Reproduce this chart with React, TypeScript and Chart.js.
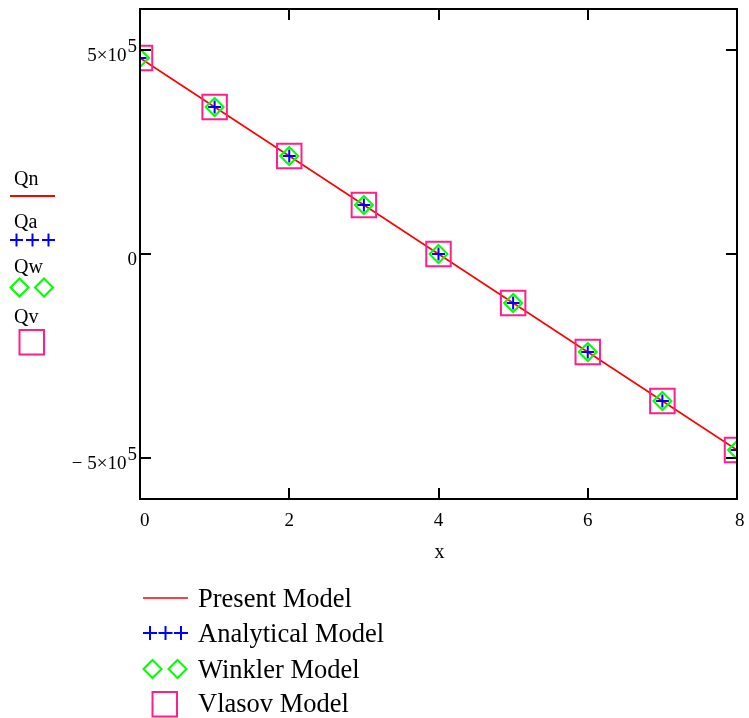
import React, { useEffect, useRef } from 'react';
import { Chart, registerables } from 'chart.js';

Chart.register(...registerables);

// Shear force along the beam, x in m, Q in N
const xValues = [0, 1, 2, 3, 4, 5, 6, 7, 8];
const presentModel = [480000, 360000, 240000, 120000, 0, -120000, -240000, -360000, -480000];
const analyticalModel = [480000, 360000, 240000, 120000, 0, -120000, -240000, -360000, -480000];
const winklerModel = [480000, 360000, 240000, 120000, 0, -120000, -240000, -360000, -480000];
const vlasovModel = [480000, 360000, 240000, 120000, 0, -120000, -240000, -360000, -480000];

const xTicks = [0, 2, 4, 6, 8];
const yTicks = [-500000, 0, 500000];
const X_MIN = 0;
const X_MAX = 8;
const Y_MIN = -600000;
const Y_MAX = 600000;

const legendNames = ['Present Model', 'Analytical Model', 'Winkler Model', 'Vlasov Model'];
const traceNames = ['Qn', 'Qa', 'Qw', 'Qv'];

const RED = '#ff0000';
const BLUE = '#0000ff';
const GREEN = '#00ff00';
const PINK = '#ff1f8c';
const SERIF = '"Liberation Serif", "Times New Roman", serif';

const toPoints = (ys: number[]) => xValues.map((x, i) => ({ x, y: ys[i] }));

function drawCross(ctx: CanvasRenderingContext2D, cx: number, cy: number, r: number) {
  ctx.beginPath();
  ctx.moveTo(cx - r, cy);
  ctx.lineTo(cx + r, cy);
  ctx.moveTo(cx, cy - r);
  ctx.lineTo(cx, cy + r);
  ctx.stroke();
}

function drawDiamond(ctx: CanvasRenderingContext2D, cx: number, cy: number, r: number) {
  ctx.beginPath();
  ctx.moveTo(cx - r, cy);
  ctx.lineTo(cx, cy - r);
  ctx.lineTo(cx + r, cy);
  ctx.lineTo(cx, cy + r);
  ctx.closePath();
  ctx.stroke();
}

// Draws a value such as 5×10^5 with a raised exponent, right-aligned at xr
function drawSciLabel(ctx: CanvasRenderingContext2D, v: number, xr: number, baseline: number) {
  ctx.textAlign = 'left';
  ctx.textBaseline = 'alphabetic';
  if (v === 0) {
    const w = ctx.measureText('0').width;
    ctx.fillText('0', xr - w, baseline);
    return;
  }
  const exp = Math.floor(Math.log10(Math.abs(v)));
  const mant = Math.abs(v) / Math.pow(10, exp);
  const main = `${v < 0 ? '\u2212 ' : ''}${mant}\u00d710`;
  const sup = `${exp}`;
  const supW = ctx.measureText(sup).width;
  const mainW = ctx.measureText(main).width;
  ctx.fillText(sup, xr - supW, baseline - 9);
  ctx.fillText(main, xr - supW - 1 - mainW, baseline);
}

const framePlugin = {
  id: 'mathFrame',
  afterDatasetsDraw(chart: any) {
    const { ctx, chartArea: a, scales } = chart;
    const xs = scales.x;
    const ys = scales.y;
    ctx.save();
    ctx.strokeStyle = '#000';
    ctx.lineWidth = 2;
    ctx.strokeRect(a.left, a.top, a.right - a.left, a.bottom - a.top);
    const tl = 11;
    ctx.beginPath();
    for (const v of xTicks) {
      if (v === X_MIN || v === X_MAX) continue;
      const px = Math.round(xs.getPixelForValue(v));
      ctx.moveTo(px, a.top);
      ctx.lineTo(px, a.top + tl);
      ctx.moveTo(px, a.bottom);
      ctx.lineTo(px, a.bottom - tl);
    }
    for (const v of yTicks) {
      const py = Math.round(ys.getPixelForValue(v));
      ctx.moveTo(a.left, py);
      ctx.lineTo(a.left + tl, py);
      ctx.moveTo(a.right, py);
      ctx.lineTo(a.right - tl, py);
    }
    ctx.stroke();
    ctx.restore();
  },
  afterDraw(chart: any) {
    const { ctx, chartArea: a, scales } = chart;
    const xs = scales.x;
    const ys = scales.y;
    ctx.save();
    ctx.fillStyle = '#000';

    // y tick labels
    ctx.font = `19px ${SERIF}`;
    for (const v of yTicks) {
      const py = ys.getPixelForValue(v);
      drawSciLabel(ctx, v, a.left - 3, py + 11);
    }

    // x tick labels
    ctx.textBaseline = 'alphabetic';
    for (const v of xTicks) {
      const px = xs.getPixelForValue(v);
      if (v === X_MIN || v === X_MAX) {
        ctx.textAlign = 'left';
        ctx.fillText(String(v), v === X_MIN ? px : px - 2, a.bottom + 27);
      } else {
        ctx.textAlign = 'center';
        ctx.fillText(String(v), px, a.bottom + 27);
      }
    }

    // x axis title
    ctx.font = `20px ${SERIF}`;
    ctx.textAlign = 'center';
    ctx.fillText('x', (a.left + a.right) / 2 + 1, a.bottom + 59);

    // trace names at the left
    ctx.textAlign = 'left';
    ctx.font = `20px ${SERIF}`;
    const nameBaselines = [185, 228, 273, 323];
    traceNames.forEach((n, i) => ctx.fillText(n, 14, nameBaselines[i]));

    ctx.lineWidth = 2;
    ctx.strokeStyle = RED;
    ctx.beginPath();
    ctx.moveTo(10, 196);
    ctx.lineTo(55, 196);
    ctx.stroke();
    ctx.strokeStyle = BLUE;
    [16.5, 32.5, 48.5].forEach((cx) => drawCross(ctx, cx, 240, 6.5));
    ctx.strokeStyle = GREEN;
    [19.5, 44].forEach((cx) => drawDiamond(ctx, cx, 287.5, 9));
    ctx.strokeStyle = PINK;
    ctx.strokeRect(19.5, 330, 24.5, 24.5);

    // legend below the plot
    ctx.fillStyle = '#000';
    ctx.font = `26.5px ${SERIF}`;
    const legBaselines = [607, 642, 678, 712];
    legendNames.forEach((n, i) => ctx.fillText(n, 198, legBaselines[i]));
    ctx.lineWidth = 1.6;
    ctx.strokeStyle = RED;
    ctx.beginPath();
    ctx.moveTo(143, 598);
    ctx.lineTo(188, 598);
    ctx.stroke();
    ctx.lineWidth = 2;
    ctx.strokeStyle = BLUE;
    [150, 165.5, 181].forEach((cx) => drawCross(ctx, cx, 633, 7));
    ctx.strokeStyle = GREEN;
    [152.5, 177.5].forEach((cx) => drawDiamond(ctx, cx, 669, 9));
    ctx.strokeStyle = PINK;
    ctx.strokeRect(152.5, 692, 24.5, 24.5);

    ctx.restore();
  },
};

export default function App() {
  const canvasRef = useRef<HTMLCanvasElement | null>(null);

  useEffect(() => {
    const canvas = canvasRef.current;
    if (!canvas) return;
    const chart = new Chart(canvas, {
      type: 'scatter',
      data: {
        datasets: [
          {
            label: 'Qn',
            data: toPoints(presentModel),
            showLine: true,
            borderColor: RED,
            borderWidth: 1.6,
            pointRadius: 0,
            clip: 0,
            order: 4,
          },
          {
            label: 'Qa',
            data: toPoints(analyticalModel),
            showLine: false,
            pointStyle: 'cross',
            pointRadius: 6.5,
            pointBorderWidth: 2,
            pointBorderColor: BLUE,
            pointBackgroundColor: 'transparent',
            clip: 0,
            order: 3,
          },
          {
            label: 'Qw',
            data: toPoints(winklerModel),
            showLine: false,
            pointStyle: 'rectRot',
            pointRadius: 9,
            pointBorderWidth: 2,
            pointBorderColor: GREEN,
            pointBackgroundColor: 'transparent',
            clip: 0,
            order: 2,
          },
          {
            label: 'Qv',
            data: toPoints(vlasovModel),
            showLine: false,
            pointStyle: 'rect',
            pointRadius: 17.3,
            pointBorderWidth: 2,
            pointBorderColor: PINK,
            pointBackgroundColor: 'transparent',
            clip: 0,
            order: 1,
          },
        ],
      },
      options: {
        responsive: false,
        animation: false,
        events: [],
        layout: { autoPadding: false, padding: { left: 140, top: 9, right: 12, bottom: 219 } },
        plugins: {
          legend: { display: false },
          tooltip: { enabled: false },
        },
        scales: {
          x: { type: 'linear', min: X_MIN, max: X_MAX, display: false },
          y: { type: 'linear', min: Y_MIN, max: Y_MAX, display: false },
        },
      },
      plugins: [framePlugin],
    });
    return () => chart.destroy();
  }, []);

  return (
    <div style={{ position: 'fixed', left: 0, top: 0, width: 749, height: 718, background: '#fff' }}>
      <canvas ref={canvasRef} width={749} height={718} style={{ width: 749, height: 718 }} />
    </div>
  );
}
